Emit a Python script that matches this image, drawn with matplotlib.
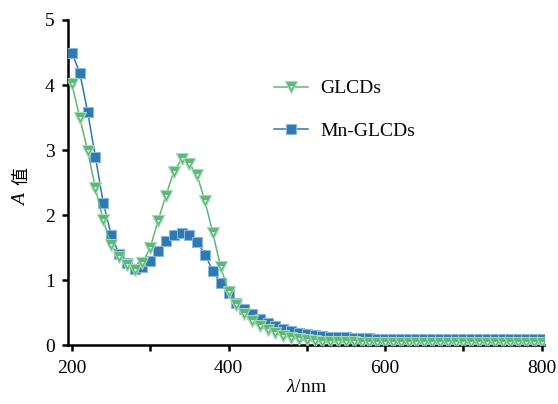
import matplotlib
matplotlib.use('Agg')
from matplotlib import pyplot as plt
from matplotlib.ticker import MultipleLocator

# 波长 (nm)，每 10 nm 一个点
wavelength = list(range(200, 810, 10))

# GLCDs 吸光度
glcds = [4.01, 3.50, 2.99, 2.41, 1.92, 1.54, 1.36, 1.23, 1.15, 1.26,
         1.50, 1.91, 2.30, 2.66, 2.86, 2.79, 2.61, 2.21, 1.72, 1.20,
         0.82, 0.62, 0.47, 0.37, 0.29, 0.23, 0.18, 0.14, 0.11, 0.09,
         0.07, 0.06, 0.05, 0.05, 0.04, 0.04, 0.04, 0.03, 0.03, 0.03,
         0.03, 0.03, 0.03, 0.03, 0.03, 0.03, 0.03, 0.03, 0.03, 0.03,
         0.03, 0.03, 0.03, 0.03, 0.03, 0.03, 0.03, 0.03, 0.03, 0.03,
         0.03]

# Mn-GLCDs 吸光度
mn_glcds = [4.49, 4.19, 3.59, 2.89, 2.19, 1.70, 1.40, 1.26, 1.17, 1.20,
            1.30, 1.44, 1.60, 1.69, 1.73, 1.69, 1.59, 1.39, 1.14, 0.95,
            0.80, 0.65, 0.55, 0.47, 0.40, 0.34, 0.29, 0.25, 0.22, 0.19,
            0.17, 0.15, 0.14, 0.13, 0.12, 0.12, 0.11, 0.11, 0.11, 0.10,
            0.10, 0.10, 0.10, 0.10, 0.10, 0.10, 0.10, 0.10, 0.10, 0.10,
            0.10, 0.10, 0.10, 0.10, 0.10, 0.10, 0.10, 0.10, 0.10, 0.10,
            0.10]

green = '#5cb87a'
blue = '#2e78b4'

plt.rcParams['font.family'] = ['Liberation Serif', 'Noto Sans CJK SC']
plt.rcParams['mathtext.fontset'] = 'custom'
plt.rcParams['mathtext.it'] = 'Liberation Serif:italic'
plt.rcParams['mathtext.rm'] = 'Liberation Serif'

fig = plt.figure(figsize=(5.58, 4.04), dpi=100)
ax = fig.add_axes([0.1219, 0.146, 0.853, 0.8045])

# 先画 Mn-GLCDs，GLCDs 压在上面
l_mn, = ax.plot(wavelength, mn_glcds, color=blue, lw=1.1, marker='s', ms=6.5,
                mfc=blue, mec='#8ab8dc', mew=0.8, zorder=3)
l_gl, = ax.plot(wavelength, glcds, color=green, lw=1.1, marker='v', ms=9,
                mfc=green, mec='#a3d9b2', mew=0.8, zorder=4)
# 三角形中心的小白点
l_dot, = ax.plot(wavelength, glcds, ls='none', marker='v', ms=2.2,
                 mfc='#e6f5ea', mec='none', zorder=5)

ax.set_xlim(195, 803)
ax.set_ylim(0, 5)
ax.xaxis.set_major_locator(MultipleLocator(200))
ax.xaxis.set_minor_locator(MultipleLocator(100))
ax.yaxis.set_major_locator(MultipleLocator(1))

for side in ['top', 'right']:
    ax.spines[side].set_visible(False)
for side in ['left', 'bottom']:
    ax.spines[side].set_linewidth(1.8)

ax.tick_params(axis='both', which='both', direction='out', width=1.8,
               length=4.5, labelsize=14)
ax.tick_params(axis='x', which='major', pad=6)
ax.tick_params(axis='y', pad=5)

ax.set_xlabel(r'$\mathit{λ}$/nm', fontsize=14, labelpad=2)

# 纵轴标题：斜体 A + 值
ax.text(-0.097, 0.445, 'A', transform=ax.transAxes, rotation=90,
        ha='center', va='center', fontsize=14, style='italic',
        family='Liberation Serif')
ax.text(-0.097, 0.52, '值', transform=ax.transAxes, rotation=90,
        ha='center', va='center', fontsize=13, family='Noto Sans CJK SC')

ax.legend([(l_gl, l_dot), l_mn], ['GLCDs', 'Mn-GLCDs'], loc='upper left',
          bbox_to_anchor=(0.395, 0.87), frameon=False, fontsize=14,
          handlelength=1.75, handletextpad=0.65, labelspacing=1.3)

fig.savefig('out.png', dpi=100)
